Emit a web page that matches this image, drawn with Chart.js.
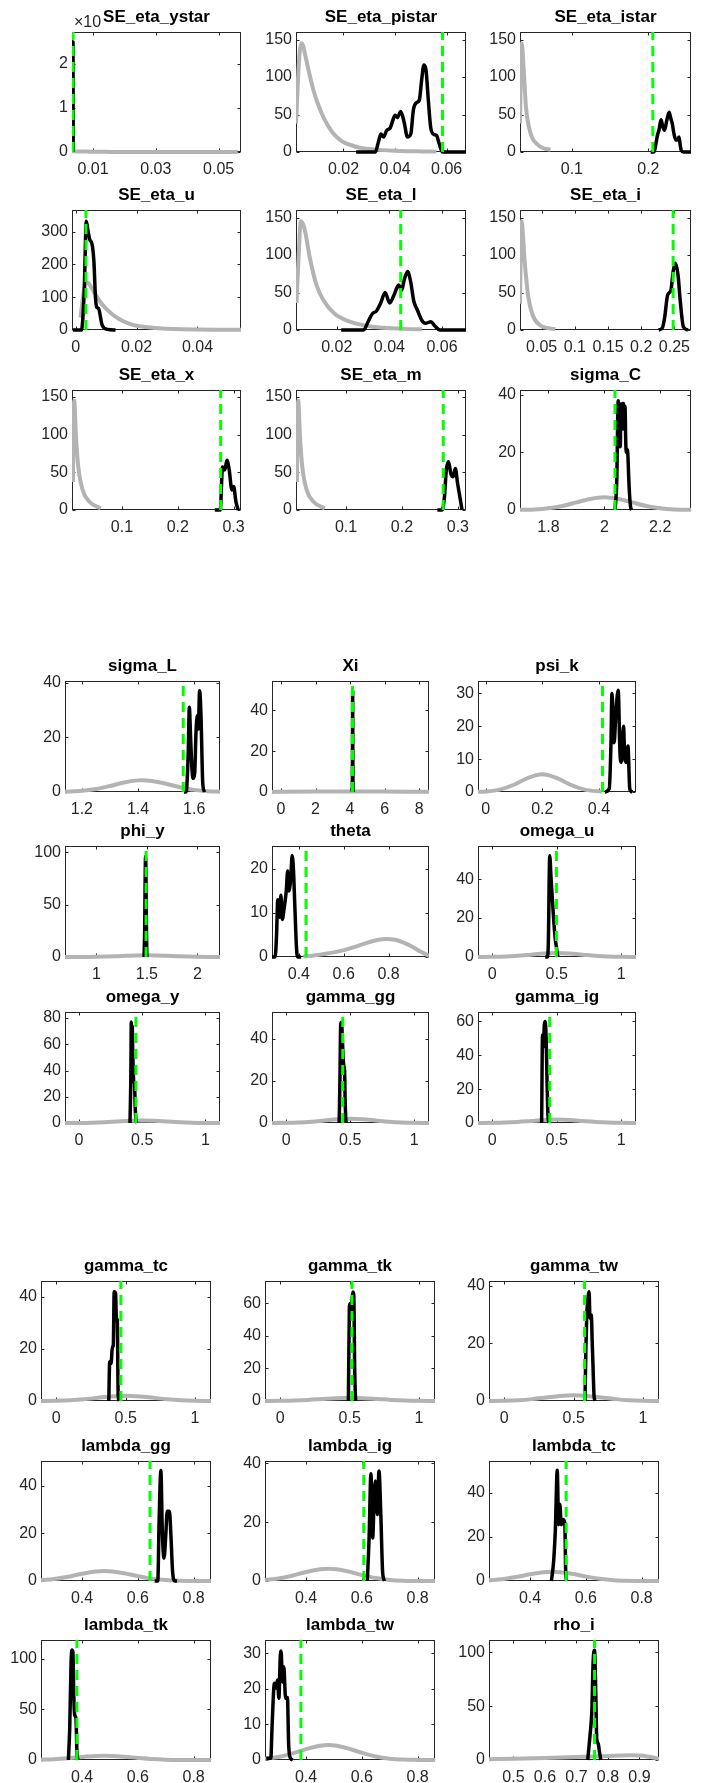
<!DOCTYPE html>
<html><head><meta charset="utf-8">
<script src="https://cdn.jsdelivr.net/npm/chart.js@4.4.0/dist/chart.umd.min.js"></script>
<style>
html,body{margin:0;padding:0;background:#fff;}
body{width:704px;height:1783px;position:relative;overflow:hidden;}
canvas{position:absolute;}
</style></head><body>
<script>
// ================= DATA =================
const titles = ['SE_eta_ystar','SE_eta_pistar','SE_eta_istar','SE_eta_u','SE_eta_l','SE_eta_i','SE_eta_x','SE_eta_m','sigma_C',
  'sigma_L','Xi','psi_k','phi_y','theta','omega_u','omega_y','gamma_gg','gamma_ig',
  'gamma_tc','gamma_tk','gamma_tw','lambda_gg','lambda_ig','lambda_tc','lambda_tk','lambda_tw','rho_i'];

const xMin = [0.00333,0.00159,0.0322,-0.0012,0.00453,0.0174,0.0105,0.0105,1.698,
  1.14,-0.52,-0.027,0.689,0.28,-0.11,-0.11,-0.11,-0.11,
  -0.11,-0.11,-0.11,0.253,0.253,0.253,0.253,0.253,0.4225];
const xMax = [0.0571,0.0675,0.2557,0.0543,0.0691,0.275,0.3133,0.3145,2.3102,
  1.692,8.57,0.531,2.224,0.9807,1.115,1.115,1.115,1.115,
  1.115,1.115,1.115,0.8623,0.8623,0.8623,0.8623,0.8623,0.962];
const yMax = [27150,160,160,366,160,160,159,159,41.7,
  40.6,54.4,33.8,106,25.2,57,84.6,52.9,65.6,
  46,73.8,41.6,50.3,40.8,54.5,118.8,33.8,111.5];

const xTickLabels = [
  ['0.01','0.03','0.05'],['0.02','0.04','0.06'],['0.1','0.2'],
  ['0','0.02','0.04'],['0.02','0.04','0.06'],['0.05','0.1','0.15','0.2','0.25'],
  ['0.1','0.2','0.3'],['0.1','0.2','0.3'],['1.8','2','2.2'],
  ['1.2','1.4','1.6'],['0','2','4','6','8'],['0','0.2','0.4'],
  ['1','1.5','2'],['0.4','0.6','0.8'],['0','0.5','1'],
  ['0','0.5','1'],['0','0.5','1'],['0','0.5','1'],
  ['0','0.5','1'],['0','0.5','1'],['0','0.5','1'],
  ['0.4','0.6','0.8'],['0.4','0.6','0.8'],['0.4','0.6','0.8'],
  ['0.4','0.6','0.8'],['0.4','0.6','0.8'],['0.5','0.6','0.7','0.8','0.9']];
const yTickLabels = [
  ['0','1','2'],['0','50','100','150'],['0','50','100','150'],
  ['0','100','200','300'],['0','50','100','150'],['0','50','100','150'],
  ['0','50','100','150'],['0','50','100','150'],['0','20','40'],
  ['0','20','40'],['0','20','40'],['0','10','20','30'],
  ['0','50','100'],['0','10','20'],['0','20','40'],
  ['0','20','40','60','80'],['0','20','40'],['0','20','40','60'],
  ['0','20','40'],['0','20','40','60'],['0','20','40'],
  ['0','20','40'],['0','20','40'],['0','20','40'],
  ['0','50','100'],['0','10','20','30'],['0','50','100']];
// y tick multiplier (first panel is shown as x10^4)
const yTickUnit = [1e4,1,1,1,1,1,1,1,1, 1,1,1,1,1,1,1,1,1, 1,1,1,1,1,1,1,1,1];
const yExponent = '×10';

// green dashed line (mode) position
const modeValues = [0.00365,0.0584,0.2058,0.0034,0.0443,0.2481,0.2769,0.2738,2.038,
  1.561,4.14,0.4128,1.492,0.432,0.498,0.4504,0.4422,0.4461,
  0.4657,0.5168,0.5788,0.644,0.607,0.5297,0.3817,0.3817,0.7575];

// ---- priors (gray) ----
const priorSE = [[0.0016,38],[0.0022,85],[0.0027,118],[0.0032,138],[0.0038,145],[0.0044,141],[0.005,132],[0.006,116],[0.007,101],[0.008,87],[0.009,75],[0.010,65],[0.012,48],[0.014,35],[0.016,25],[0.018,18],[0.020,13],[0.023,9],[0.026,6],[0.030,4],[0.035,2.5],[0.040,1.6],[0.045,1.1],[0.050,0.8],[0.056,0.5]];
const priorSE_istar = [[0.0322,38],[0.0335,120],[0.0345,145],[0.0370,110],[0.0400,60],[0.0460,25],[0.0550,10],[0.0630,5],[0.0720,3]];
const priorSE_l = [[0.0047,36],[0.0055,96],[0.0064,145],[0.0077,136],[0.0098,96],[0.0123,60],[0.0149,40],[0.0191,22],[0.0251,11],[0.0336,4.4],[0.0455,1.5],[0.0523,0.9]];
const priorSE_i = [[0.0174,35],[0.0185,105],[0.0195,145],[0.0250,85],[0.0297,45],[0.0364,20],[0.0466,7],[0.0704,1]];
const priorSE_xm = [[0.0121,37],[0.0132,110],[0.0144,145],[0.0177,96],[0.0218,57],[0.0298,26],[0.0418,11],[0.0618,2]];
const priorSigmaC = [[1.698,0.06],[1.75,0.2],[1.80,0.6],[1.85,1.4],[1.90,2.65],[1.95,3.85],[2.00,4.4],[2.05,3.85],[2.10,2.65],[2.15,1.4],[2.20,0.6],[2.25,0.2],[2.31,0.06]];
const priorSigmaL = [[1.14,0.1],[1.20,0.43],[1.25,1.1],[1.30,2.2],[1.35,3.5],[1.40,4.25],[1.415,4.3],[1.45,4.0],[1.50,3.0],[1.55,1.75],[1.60,0.78],[1.65,0.27],[1.692,0.1]];
const priorXi = [[-0.52,0.05],[0,0.1],[2,0.2],[4,0.25],[6,0.2],[8,0.12],[8.57,0.1]];
const priorPsiK = [[-0.027,0.06],[0,0.15],[0.05,0.73],[0.1,2.2],[0.15,4.3],[0.2,5.4],[0.25,4.3],[0.3,2.2],[0.35,0.73],[0.41,0.1]];
const priorPhiY = [[0.689,0.01],[0.8,0.03],[0.9,0.09],[1.0,0.22],[1.1,0.44],[1.2,0.78],[1.3,1.16],[1.4,1.48],[1.5,1.6],[1.6,1.48],[1.7,1.16],[1.8,0.78],[1.9,0.44],[2.0,0.22],[2.1,0.09],[2.224,0.03]];
const priorTheta = [[0.42,0.1],[0.46,0.3],[0.5,0.6],[0.55,1.0],[0.6,1.55],[0.65,2.3],[0.7,3.15],[0.75,3.85],[0.79,4.1],[0.83,3.9],[0.87,3.2],[0.9,2.5],[0.94,1.3],[0.9807,0.25]];
const priorHalf = [[-0.11,0.02],[0,0.09],[0.1,0.27],[0.2,0.65],[0.3,1.21],[0.4,1.76],[0.5,2.0],[0.6,1.76],[0.7,1.21],[0.8,0.65],[0.9,0.27],[1.0,0.09],[1.115,0.02]];
const priorLambda = [[0.253,0.32],[0.3,0.83],[0.35,1.8],[0.4,3.05],[0.45,4.0],[0.48,4.2],[0.51,4.0],[0.55,3.27],[0.6,2.03],[0.65,0.99],[0.7,0.37],[0.75,0.11],[0.8,0.03],[0.862,0.01]];
const priorRho = [[0.4225,0.8],[0.5,1.2],[0.6,1.9],[0.7,2.8],[0.78,3.6],[0.84,4.2],[0.87,4.4],[0.9,4.1],[0.925,3.3],[0.945,2.2],[0.962,1.2]];

// ---- posteriors (black) ----
const post_SE_eta_ystar = [[0.00358,0],[0.00365,24900],[0.00372,0]];
const post_SE_eta_pistar = [[0.0249,0],[0.0323,0],[0.0336,14],[0.0345,24],[0.0355,20],[0.0368,29],[0.0381,32],[0.0391,42],[0.0400,49],[0.0409,46],[0.0422,54],[0.0435,40],[0.0448,20],[0.0461,24],[0.0471,56],[0.0484,66],[0.0494,69],[0.0503,96],[0.0512,116],[0.0520,109],[0.0529,69],[0.0538,33],[0.0548,24],[0.0561,22],[0.0571,11],[0.0584,0],[0.0675,0]];
const post_SE_eta_istar = [[0.2030,0],[0.2075,0],[0.2100,12],[0.2118,22],[0.2140,30],[0.2165,43],[0.2190,33],[0.2212,29],[0.2240,42],[0.2271,53],[0.2295,44],[0.2312,38],[0.2335,24],[0.2359,16],[0.2380,16],[0.2400,20],[0.2415,10],[0.2430,2],[0.2460,0],[0.2557,0]];
const post_SE_eta_u = [[-0.0009,0],[0.0019,0],[0.0028,117],[0.0035,332],[0.0041,300],[0.0047,274],[0.0053,265],[0.0060,208],[0.0065,100],[0.0069,70],[0.0075,66],[0.0087,15],[0.0104,2],[0.0131,0]];
const post_SE_eta_l = [[0.0217,0],[0.0302,0],[0.0319,11],[0.0336,22],[0.0350,25],[0.0367,36],[0.0384,50],[0.0401,36],[0.0418,47],[0.0435,60],[0.0447,53],[0.0455,65],[0.0469,78],[0.0481,64],[0.0493,38],[0.0506,27],[0.0523,13],[0.0537,9],[0.0558,11],[0.0571,6],[0.0592,0],[0.0691,0]];
const post_SE_eta_i = [[0.2263,0],[0.2320,3],[0.2352,16],[0.2399,47],[0.2447,53],[0.2481,78],[0.2515,89],[0.2555,73],[0.2589,38],[0.2636,4],[0.2704,0]];
const post_SE_eta_x = [[0.2664,0],[0.2761,0],[0.2802,57],[0.2842,53],[0.2882,66],[0.2922,53],[0.2970,26.5],[0.3002,31],[0.3042,11],[0.3083,0]];
const post_SE_eta_m = [[0.2633,0],[0.2720,0],[0.2760,18],[0.2793,53],[0.2834,64],[0.2874,48],[0.2914,44],[0.2954,55],[0.2995,35],[0.3050,11],[0.3074,0]];
const post_sigma_C = [[2.0384,0],[2.0449,12],[2.0475,30],[2.0496,38],[2.0520,26],[2.0546,37],[2.0570,22],[2.0593,36],[2.0620,28],[2.0643,37],[2.0670,30],[2.0690,37],[2.0715,28],[2.0740,36],[2.0765,24],[2.0787,20],[2.0812,21],[2.0837,20],[2.0870,12],[2.0898,6],[2.0940,1],[2.0980,0]];
const post_sigma_L = [[1.5635,0],[1.5713,0],[1.5790,15],[1.5827,31],[1.5873,20],[1.5923,8],[1.5969,5],[1.6019,7],[1.6066,22],[1.6115,28],[1.6147,23],[1.6194,37],[1.6243,28],[1.6307,3],[1.6372,0]];
const post_Xi = [[4.13,0],[4.14,20],[4.15,49.5],[4.16,20],[4.17,0]];
const post_psi_k = [[0.4206,0],[0.4364,1],[0.4427,15],[0.4459,30],[0.4491,26],[0.4537,15],[0.4600,24],[0.4681,31],[0.4744,12],[0.4790,9],[0.4868,20],[0.4917,10],[0.4980,9],[0.5026,14],[0.5090,1],[0.5185,0]];
const post_phi_y = [[1.472,0],[1.478,25],[1.483,75],[1.487,96],[1.491,80],[1.495,30],[1.500,0]];
const post_theta = [[0.2800,0],[0.2938,0],[0.3000,4.6],[0.3058,13],[0.3139,9],[0.3197,14],[0.3259,8.5],[0.3339,11],[0.3437,15],[0.3499,19.5],[0.3557,15],[0.3637,18],[0.3700,23],[0.3758,19.8],[0.3820,11.4],[0.3900,1.5],[0.3958,0],[0.4101,0]];
const post_omega_u = [[0.4113,0],[0.4283,0],[0.4352,7],[0.4461,52],[0.4561,41],[0.4670,29],[0.4770,19],[0.4878,10],[0.4979,5],[0.5087,0]];
const post_omega_y = [[0.4038,0],[0.4109,40],[0.4140,77],[0.4180,70],[0.4215,74],[0.4251,55],[0.4290,40],[0.4330,32],[0.4393,30],[0.4450,12],[0.4504,3],[0.4575,0]];
const post_gamma_gg = [[0.4141,0],[0.4200,20],[0.4260,47],[0.4330,48],[0.4390,40],[0.4461,30],[0.4510,27],[0.4562,25],[0.4610,10],[0.4671,0]];
const post_gamma_ig = [[0.3834,0],[0.3904,52],[0.3973,45],[0.4043,58],[0.4113,60],[0.4182,50],[0.4252,25],[0.4321,5],[0.4391,0]];
const post_gamma_tc = [[0.3785,0],[0.3850,15],[0.3950,14.4],[0.4044,20.8],[0.4109,21],[0.4174,41.9],[0.4275,41.2],[0.4332,31.7],[0.4397,31],[0.4462,2.3],[0.4527,0]];
const post_gamma_tk = [[0.491,0],[0.498,58],[0.504,60],[0.510,55],[0.5168,62],[0.5233,67],[0.5298,65],[0.5363,20],[0.5428,0]];
const post_gamma_tw = [[0.5817,0],[0.5882,18.3],[0.5946,30],[0.6011,34.5],[0.6112,37.9],[0.6177,28.7],[0.6271,29.8],[0.6336,20.6],[0.6400,11.3],[0.6465,2.1],[0.6530,0]];
const post_lambda_gg = [[0.6602,0],[0.6716,0],[0.6763,25],[0.6827,46.3],[0.6878,20.8],[0.6939,9.6],[0.7003,19.4],[0.7053,29.2],[0.7132,29.2],[0.7183,20],[0.7247,3.9],[0.7326,0],[0.7408,0]];
const post_lambda_ig = [[0.6197,0],[0.6261,14.6],[0.6326,36.5],[0.6390,14.6],[0.6437,26.6],[0.6487,34],[0.6552,22.6],[0.6616,37.4],[0.6681,22.6],[0.6745,3.2],[0.6810,0]];
const post_lambda_tc = [[0.4766,0],[0.4846,8.8],[0.4910,24],[0.4975,50.3],[0.5025,25.6],[0.5071,34.7],[0.5119,25.6],[0.5183,27.9],[0.5247,26.3],[0.5279,4.3],[0.5312,0]];
const post_lambda_tk = [[0.3512,0],[0.3559,31.3],[0.3609,97.3],[0.3641,109],[0.3673,107],[0.3705,64],[0.3738,44.5],[0.3784,41.3],[0.3817,8.3],[0.3849,0]];
const post_lambda_tw = [[0.2577,0.5],[0.2738,0.5],[0.2785,9.8],[0.2867,21.6],[0.2931,20.3],[0.2978,22.5],[0.3028,17.4],[0.3075,28.6],[0.3107,30.7],[0.3154,22],[0.3204,26.3],[0.3268,17.4],[0.3333,17.6],[0.3379,4.2],[0.3444,0.5],[0.3526,0]];
const post_rho_i = [[0.7358,0],[0.7431,23],[0.7488,45],[0.7530,91],[0.7575,102],[0.7615,60],[0.7644,20],[0.7688,15.5],[0.7730,7.7],[0.7774,0]];

const priors = [priorSE,priorSE,priorSE_istar,priorSE,priorSE_l,priorSE_i,priorSE_xm,priorSE_xm,priorSigmaC,
  priorSigmaL,priorXi,priorPsiK,priorPhiY,priorTheta,priorHalf,priorHalf,priorHalf,priorHalf,
  priorHalf,priorHalf,priorHalf,priorLambda,priorLambda,priorLambda,priorLambda,priorLambda,priorRho];
const posts = [post_SE_eta_ystar,post_SE_eta_pistar,post_SE_eta_istar,post_SE_eta_u,post_SE_eta_l,post_SE_eta_i,post_SE_eta_x,post_SE_eta_m,post_sigma_C,
  post_sigma_L,post_Xi,post_psi_k,post_phi_y,post_theta,post_omega_u,post_omega_y,post_gamma_gg,post_gamma_ig,
  post_gamma_tc,post_gamma_tk,post_gamma_tw,post_lambda_gg,post_lambda_ig,post_lambda_tc,post_lambda_tk,post_lambda_tw,post_rho_i];

// ================= LAYOUT / STYLE =================
const LAYOUT = [
  {colL:[72.3,295.7,519.5], colW:[169.4,170.3,170.5], rowT:[31.7,210,390], h:120},
  {colL:[65.1,271.7,478.2], colW:[155.2,157.3,158.4], rowT:[680.7,846,1012.3], h:111},
  {colL:[41.3,265,488.6], colW:[170,170,170], rowT:[1281.3,1461.3,1640.3], h:120}
];
const PADL = 44, PADR = 30, PADT = 30, PADB = 30;
const FONT = "'Liberation Sans', Arial, Helvetica, sans-serif";
const AX = '#262626';
const TICK_LEN = 3;

const boxPlugin = {
  id: 'matlabBox',
  beforeDatasetsDraw(chart, args, opts) {
    const {ctx, chartArea: a, scales} = chart;
    ctx.save();
    ctx.strokeStyle = AX; ctx.lineWidth = 1;
    const l = Math.round(a.left) + 0.5, t = Math.round(a.top) + 0.5;
    const r = Math.round(a.right) - 0.5, b = Math.round(a.bottom) - 0.5;
    ctx.strokeRect(l, t, r - l, b - t);
    ctx.beginPath();
    scales.x.ticks.forEach(tk => {
      const px = Math.round(scales.x.getPixelForValue(tk.value)) + 0.5;
      ctx.moveTo(px, b); ctx.lineTo(px, b - TICK_LEN);
      ctx.moveTo(px, t); ctx.lineTo(px, t + TICK_LEN);
    });
    scales.y.ticks.forEach(tk => {
      const py = Math.round(scales.y.getPixelForValue(tk.value)) + 0.5;
      ctx.moveTo(l, py); ctx.lineTo(l + TICK_LEN, py);
      ctx.moveTo(r, py); ctx.lineTo(r - TICK_LEN, py);
    });
    ctx.stroke();
    ctx.restore();
  },
  afterDraw(chart, args, opts) {
    if (!opts || !opts.exponent) return;
    const {ctx, chartArea: a} = chart;
    ctx.save();
    ctx.fillStyle = AX;
    ctx.font = '16px ' + FONT;
    ctx.textAlign = 'left'; ctx.textBaseline = 'alphabetic';
    ctx.fillText(opts.exponent, a.left + 2, a.top - 5);
    ctx.restore();
  }
};

const CLIP = {left: 0, right: 0, top: 4, bottom: 4};

for (let i = 0; i < 27; i++) {
  const blk = LAYOUT[Math.floor(i / 9)];
  const r = Math.floor((i % 9) / 3), c = i % 3;
  const L = Math.round(blk.colL[c]), T = Math.round(blk.rowT[r]);
  const W = Math.round(blk.colW[c]), H = Math.round(blk.h);
  const cv = document.createElement('canvas');
  cv.width = PADL + W + PADR; cv.height = PADT + H + PADB;
  cv.style.left = (L - PADL) + 'px'; cv.style.top = (T - PADT) + 'px';
  cv.style.width = cv.width + 'px'; cv.style.height = cv.height + 'px';
  document.body.appendChild(cv);

  const xl = xTickLabels[i], xv = xl.map(Number);
  const yl = yTickLabels[i], yv = yl.map(s => Number(s) * yTickUnit[i]);

  new Chart(cv, {
    type: 'line',
    data: { datasets: [
      { data: [[modeValues[i], 0], [modeValues[i], yMax[i]]], borderColor: '#00ff00', borderWidth: 3,
        borderDash: [10, 6], pointRadius: 0, tension: 0, clip: CLIP },
      { data: posts[i], borderColor: '#000000', borderWidth: 3.5, pointRadius: 0,
        cubicInterpolationMode: 'monotone', borderJoinStyle: 'round', clip: CLIP },
      { data: priors[i], borderColor: '#b3b3b3', borderWidth: 4, pointRadius: 0,
        cubicInterpolationMode: 'monotone', borderJoinStyle: 'round', clip: CLIP }
    ]},
    options: {
      responsive: false, animation: false, events: [],
      layout: { padding: { left: 0, right: PADR, top: 0, bottom: 0 } },
      plugins: {
        legend: { display: false }, tooltip: { enabled: false },
        title: { display: true, text: titles[i], fullSize: false, color: '#000',
          font: { family: FONT, size: 17, weight: 'bold', lineHeight: 1.2 },
          padding: { top: PADT - 17 * 1.2 - 4, bottom: 4 } },
        matlabBox: { exponent: i === 0 ? yExponent : '' }
      },
      scales: {
        x: { type: 'linear', min: xMin[i], max: xMax[i],
          afterBuildTicks: s => { s.ticks = xv.map(v => ({ value: v })); },
          afterFit: s => { s.height = PADB; },
          grid: { display: false, drawTicks: false }, border: { display: false },
          ticks: { autoSkip: false, maxRotation: 0, minRotation: 0, padding: 8, color: AX,
            font: { family: FONT, size: 16 }, callback: (v, idx) => xl[idx] } },
        y: { type: 'linear', min: 0, max: yMax[i],
          afterBuildTicks: s => { s.ticks = yv.map(v => ({ value: v })); },
          afterFit: s => { s.width = PADL; },
          grid: { display: false, drawTicks: false }, border: { display: false },
          ticks: { autoSkip: false, padding: 4, color: AX,
            font: { family: FONT, size: 16 }, callback: (v, idx) => yl[idx] } }
      }
    },
    plugins: [boxPlugin]
  });
}
</script>
</body></html>
